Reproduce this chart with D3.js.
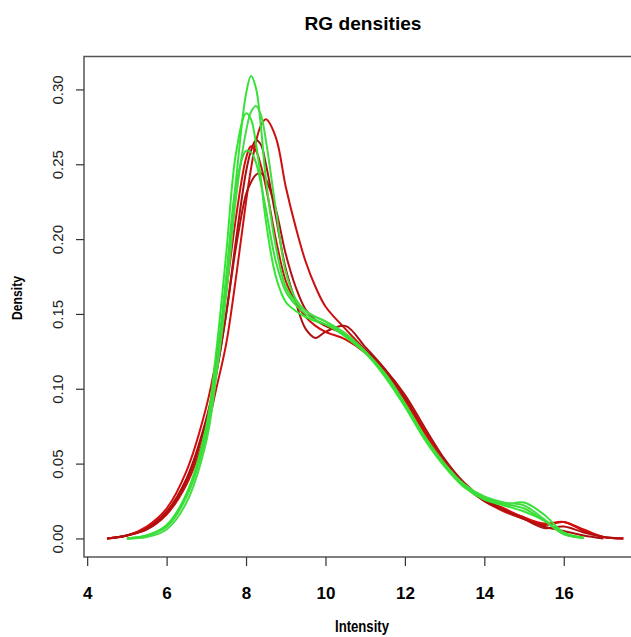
<!DOCTYPE html>
<html>
<head>
<meta charset="utf-8">
<script src="https://cdn.jsdelivr.net/npm/d3@7"></script>
<style>
  body { margin: 0; background: #fff; }
  svg { display: block; }
</style>
</head>
<body>
<svg id="chart" width="631" height="637"></svg>
<script>
// intensity grid shared by every density curve
var intensity = [4.5, 5, 5.5, 6, 6.5, 7, 7.25, 7.5, 7.75, 8, 8.125, 8.25, 8.375, 8.5, 8.75, 9, 9.25, 9.5, 9.75,
                 10, 10.5, 11, 11.5, 12, 12.5, 13, 13.5, 14, 14.5, 15, 15.5, 16, 16.5, 17, 17.5];

// red channel densities
var red1 = [0, .002, .006, .016, .036, .072, .1, .13, .175, .225, .247, .265, .276, .28, .268, .235, .208, .185, .168,
            .155, .14, .126, .112, .094, .072, .052, .036, .025, .018, .013, .009, .011, .005, .001, 0];
var red2 = [0, .002, .007, .018, .04, .08, .11, .15, .2, .245, .259, .266, .263, .25, .215, .18, .158, .14, .134,
            .138, .142, .128, .113, .094, .07, .05, .035, .025, .019, .014, .008, .005, .002, 0, null];
var red3 = [0, .002, .008, .02, .045, .088, .12, .165, .215, .254, .262, .259, .249, .235, .2, .172, .158, .148, .142,
            .138, .133, .124, .11, .092, .07, .05, .036, .026, .02, .014, .01, .011, .006, .001, 0];
var red4 = [0, .002, .006, .017, .038, .078, .11, .15, .195, .23, .238, .243, .244, .24, .22, .19, .168, .153, .146,
            .142, .136, .126, .113, .096, .074, .053, .037, .026, .019, .013, .007, .008, .004, .001, 0];

// green channel densities
var green1 = [null, 0, .002, .008, .028, .07, .112, .17, .24, .297, .309, .301, .275, .24, .195, .168, .158, .152, .148,
              .145, .135, .124, .11, .09, .068, .049, .035, .027, .023, .024, .016, .004, .0005, null, null];
var green2 = [null, 0, .001, .006, .024, .065, .108, .162, .228, .272, .285, .289, .283, .266, .22, .178, .16, .152, .148,
              .145, .137, .125, .11, .09, .068, .05, .036, .028, .024, .022, .013, .003, .0005, null, null];
var green3 = [null, 0, .002, .009, .03, .075, .125, .19, .258, .284, .28, .264, .24, .212, .175, .158, .152, .148, .145,
              .143, .135, .124, .108, .088, .066, .048, .034, .026, .022, .018, .012, .003, .0005, null, null];
var green4 = [null, 0, .002, .008, .028, .07, .115, .175, .236, .259, .258, .251, .237, .22, .185, .165, .156, .15, .146,
              .143, .136, .125, .11, .09, .068, .049, .035, .027, .023, .02, .012, .003, .0005, null, null];

var redSeries = [red1, red2, red3, red4];
var greenSeries = [green1, green2, green3, green4];
var redColors = ['#cc1010', '#aa1010', '#d40c0c', '#b01010'];
var greenColors = ['#3ae03a', '#44dd44', '#30e830', '#3cdc3c'];

var xTicks = [4, 6, 8, 10, 12, 14, 16];
var yTicks = [0, 0.05, 0.10, 0.15, 0.20, 0.25, 0.30];

var font = 'Liberation Sans, Arial, sans-serif';

var svg = d3.select('#chart');
svg.append('rect').attr('width', 631).attr('height', 637).attr('fill', '#fff');

// plot region, R style 4% padding on both axes
var xScale = d3.scaleLinear().domain([3.92, 17.97]).range([84, 642]);
var yScale = d3.scaleLinear().domain([-0.0124, 0.322]).range([557, 56.5]);

var line = d3.line()
    .defined(function(d) { return d[1] !== null; })
    .x(function(d) { return xScale(d[0]); })
    .y(function(d) { return yScale(d[1]); })
    .curve(d3.curveCatmullRom.alpha(0.5));

function pairs(values) {
    return intensity.map(function(x, i) { return [x, values[i]]; });
}

var curves = svg.append('g').attr('fill', 'none').attr('stroke-width', 2).attr('stroke-linejoin', 'round');

redSeries.forEach(function(s, i) {
    curves.append('path').attr('d', line(pairs(s))).attr('stroke', redColors[i]);
});
greenSeries.forEach(function(s, i) {
    curves.append('path').attr('d', line(pairs(s))).attr('stroke', greenColors[i]);
});

// box
svg.append('rect')
    .attr('x', 84).attr('y', 56.5)
    .attr('width', 600).attr('height', 500.5)
    .attr('fill', 'none').attr('stroke', '#555').attr('stroke-width', 1.5);

// x axis
var xAxis = svg.append('g')
    .attr('transform', 'translate(0,557)')
    .call(d3.axisBottom(xScale).tickValues(xTicks).tickSize(9).tickFormat(d3.format('d')));
xAxis.select('.domain').remove();
xAxis.selectAll('line').attr('stroke', '#333').attr('stroke-width', 1.2);
xAxis.selectAll('text')
    .attr('y', 0).attr('dy', 0)
    .attr('transform', 'translate(0,42)')
    .attr('fill', '#000')
    .style('font-family', font)
    .style('font-size', '17px')
    .style('font-weight', 'bold');

// y axis
var yAxis = svg.append('g')
    .attr('transform', 'translate(84,0)')
    .call(d3.axisLeft(yScale).tickValues(yTicks).tickSize(8).tickFormat(d3.format('.2f')));
yAxis.select('.domain').remove();
yAxis.selectAll('line').attr('stroke', '#333').attr('stroke-width', 1.2);
yAxis.selectAll('text')
    .attr('x', 0).attr('dy', 0)
    .attr('text-anchor', 'middle')
    .attr('transform', 'translate(-21,0) rotate(-90)')
    .attr('fill', '#222')
    .style('font-family', font)
    .style('font-size', '15px');

svg.append('text')
    .attr('x', 363).attr('y', 30)
    .attr('text-anchor', 'middle')
    .attr('textLength', 117).attr('lengthAdjust', 'spacingAndGlyphs')
    .style('font-family', font).style('font-weight', 'bold').style('font-size', '19px')
    .text('RG densities');

svg.append('text')
    .attr('x', 362).attr('y', 632)
    .attr('text-anchor', 'middle')
    .attr('textLength', 54).attr('lengthAdjust', 'spacingAndGlyphs')
    .style('font-family', font).style('font-weight', 'bold').style('font-size', '16px')
    .text('Intensity');

svg.append('text')
    .attr('transform', 'translate(22,298) rotate(-90)')
    .attr('text-anchor', 'middle')
    .attr('textLength', 44).attr('lengthAdjust', 'spacingAndGlyphs')
    .style('font-family', font).style('font-weight', 'bold').style('font-size', '15px')
    .text('Density');
</script>
</body>
</html>
